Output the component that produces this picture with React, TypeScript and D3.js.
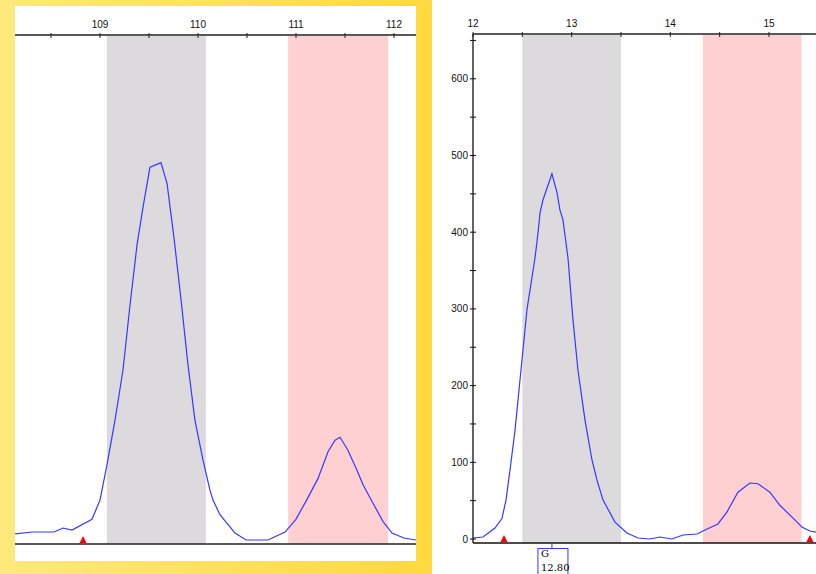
import React from 'react'
import * as d3 from 'd3'

// left panel trace (size in bp, signal)
const leftSize = [108.133, 108.31, 108.53, 108.622, 108.714, 108.918, 109.0, 109.071, 109.153, 109.235, 109.306, 109.378, 109.439, 109.51, 109.622, 109.684, 109.755, 109.827, 109.898, 109.969, 110.051, 110.122, 110.153, 110.224, 110.378, 110.49, 110.714, 110.888, 110.999, 111.1, 111.224, 111.327, 111.398, 111.449, 111.53, 111.622, 111.684, 111.786, 111.888, 111.98, 112.1, 112.224]
const leftSignal = [8, 10.4, 10.4, 15.6, 13, 27, 52, 98, 156, 222, 306, 385, 434, 486, 492, 465, 394, 313, 228, 156, 104, 65, 52, 33, 9, 0, 0, 10.4, 27, 50, 80, 115, 130, 134, 117, 91, 72, 48, 24, 9, 2.6, 0]
const leftTicks = [109, 110, 111, 112]
const leftMinor = [108.5, 109.5, 110.5, 111.5]
const leftBins = [[109.07, 110.08], [110.92, 111.94]]
const leftPeaks = [108.827]

// right panel trace
const rightSize = [12.0, 12.101, 12.223, 12.294, 12.335, 12.375, 12.426, 12.476, 12.547, 12.628, 12.659, 12.679, 12.709, 12.8, 12.851, 12.881, 12.912, 12.963, 13.013, 13.064, 13.135, 13.206, 13.256, 13.317, 13.439, 13.56, 13.672, 13.793, 13.895, 14.016, 14.128, 14.27, 14.33, 14.482, 14.573, 14.685, 14.806, 14.888, 15.009, 15.11, 15.262, 15.333, 15.414, 15.475]
const rightSignal = [1.3, 2.6, 14.3, 27, 51, 90, 142, 207, 299, 366, 399, 425, 442, 476, 452, 429, 416, 366, 286, 220, 155, 103, 77, 51, 22, 7.8, 1.3, 0, 2.6, 0, 5.2, 6.5, 10.4, 19.6, 35, 61, 73, 72, 61, 44, 25, 15.6, 10.4, 9]
const rightTicks = [12, 13, 14, 15]
const rightMinor = [12.5, 13.5, 14.5]
const rightYTicks = [0, 100, 200, 300, 400, 500, 600]
const rightYMinor = [50, 150, 250, 350, 450, 550, 650]
const rightBins = [[12.5, 13.5], [14.33, 15.33]]
const rightPeaks = [12.314, 15.414]
const callAllele = 'G'
const callSize = 12.8

const font = 'Liberation Sans, Arial, sans-serif'

const Tri = ({ x, y }: { x: number; y: number }) => (
  <path d={`M${x - 3.5},${y} L${x},${y - 7} L${x + 3.5},${y} Z`} fill="#ff0000" />
)

export default function App() {
  const xl = d3.scaleLinear().domain([109, 112]).range([100, 394])
  const yl = d3.scaleLinear().domain([0, 100]).range([540, 463.3])
  const xr = d3.scaleLinear().domain([12, 15]).range([473, 769])
  const yr = d3.scaleLinear().domain([0, 100]).range([539, 462.3])

  const leftLine = d3.line<number>().x((d, i) => xl(leftSize[i])).y((d) => yl(d))
  const rightLine = d3.line<number>().x((d, i) => xr(rightSize[i])).y((d) => yr(d))

  const lAxisY = 35
  const lBase = 544
  const rAxisY = 34
  const rBase = 543

  return (
    <svg width={816} height={574} style={{ position: 'absolute', left: 0, top: 0 }} fontFamily={font}>
      <defs>
        <linearGradient id="frame" x1="0" x2="1" y1="0" y2="0">
          <stop offset="0" stopColor="#ffe97c" />
          <stop offset="1" stopColor="#ffd93e" />
        </linearGradient>
        <clipPath id="lclip">
          <rect x={15} y={6} width={401} height={555} />
        </clipPath>
        <clipPath id="rclip">
          <rect x={473} y={0} width={343} height={574} />
        </clipPath>
      </defs>
      <rect width={816} height={574} fill="#fff" />

      {/* left panel */}
      <rect x={0} y={0} width={432} height={574} fill="url(#frame)" />
      <rect x={15} y={6} width={401} height={555} fill="#fff" />
      <g clipPath="url(#lclip)">
        {leftBins.map((b, i) => (
          <rect key={i} x={xl(b[0])} y={lAxisY + 1} width={xl(b[1]) - xl(b[0])} height={lBase - lAxisY - 1}
            fill={i === 0 ? '#dcdadd' : '#ffd0d1'} />
        ))}
        <line x1={15} x2={416} y1={lAxisY} y2={lAxisY} stroke="#222" strokeWidth={1.3} />
        {leftTicks.concat(leftMinor).map((t) => (
          <line key={t} x1={xl(t)} x2={xl(t)} y1={lAxisY - 2} y2={lAxisY + 3} stroke="#222" />
        ))}
        {leftTicks.map((t) => (
          <text key={t} x={xl(t)} y={lAxisY - 7} fontSize={10} textAnchor="middle" fill="#111">{t}</text>
        ))}
        <path d={leftLine(leftSignal) || ''} fill="none" stroke="#3737ff" strokeWidth={1.2} />
        <line x1={15} x2={416} y1={lBase} y2={lBase} stroke="#222" strokeWidth={1.5} />
        {leftPeaks.map((p) => <Tri key={p} x={xl(p)} y={lBase - 1} />)}
      </g>

      {/* right panel */}
      <g clipPath="url(#rclip)">
        {rightBins.map((b, i) => (
          <rect key={i} x={xr(b[0])} y={rAxisY + 1} width={xr(b[1]) - xr(b[0])} height={rBase - rAxisY - 1}
            fill={i === 0 ? '#dcdadd' : '#ffd0d1'} />
        ))}
        <path d={rightLine(rightSignal) || ''} fill="none" stroke="#3737ff" strokeWidth={1.2} />
      </g>
      <line x1={473} x2={816} y1={rAxisY} y2={rAxisY} stroke="#222" strokeWidth={1.3} />
      {rightTicks.concat(rightMinor).map((t) => (
        <line key={t} x1={xr(t)} x2={xr(t)} y1={rAxisY - 2} y2={rAxisY + 3} stroke="#222" />
      ))}
      {rightTicks.map((t) => (
        <text key={t} x={xr(t)} y={rAxisY - 7} fontSize={10} textAnchor="middle" fill="#111">{t}</text>
      ))}
      <line x1={473} x2={473} y1={rAxisY} y2={rBase} stroke="#111" strokeWidth={1.3} />
      {rightYTicks.concat(rightYMinor).map((t) => (
        <line key={t} x1={470} x2={476} y1={yr(t)} y2={yr(t)} stroke="#111" />
      ))}
      {rightYTicks.map((t) => (
        <text key={t} x={468} y={yr(t) + 3.5} fontSize={10} textAnchor="end" fill="#111">{t}</text>
      ))}
      <line x1={473} x2={816} y1={rBase} y2={rBase} stroke="#111" strokeWidth={1.5} />
      {rightPeaks.map((p) => <Tri key={p} x={xr(p)} y={rBase - 1} />)}

      {/* allele call */}
      <line x1={xr(callSize)} x2={xr(callSize)} y1={rBase} y2={548} stroke="#3737ff" />
      <rect x={xr(callSize) - 14} y={548.5} width={30} height={30} fill="#fff" stroke="#3737ff" />
      <text x={xr(callSize) - 11} y={557} fontSize={10} fontFamily="DejaVu Serif, serif" fill="#000">{callAllele}</text>
      <text x={xr(callSize) - 11} y={571} fontSize={10} fontFamily="DejaVu Serif, serif" fill="#000">{callSize.toFixed(2)}</text>
    </svg>
  )
}
